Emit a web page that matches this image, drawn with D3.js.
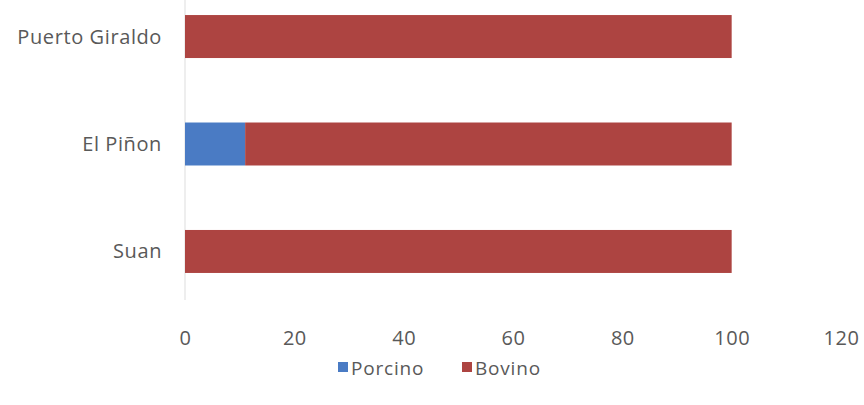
<!DOCTYPE html>
<html><head><meta charset="utf-8">
<script src="https://cdn.jsdelivr.net/npm/d3@7"></script>
<style>body{margin:0;background:#fff;} svg{display:block;font-family:"Open Sans",sans-serif;}</style>
</head><body>
<svg id="c" width="864" height="405"></svg>
<script>
const categories = ["Puerto Giraldo", "El Piñon", "Suan"];
const seriesNames = ["Porcino", "Bovino"];
const porcino = [0, 11, 0];
const bovino = [100, 89, 100];
const xTicks = [0, 20, 40, 60, 80, 100, 120];
const colors = ["#4a7bc4", "#ad4441"];

const svg = d3.select("#c");
const x = d3.scaleLinear().domain([0, 120]).range([185, 841]);
const y = d3.scaleBand().domain(categories).range([0, 288]).paddingInner(0.6).paddingOuter(0.14);

const rows = categories.map((c, i) => ({cat: c, Porcino: porcino[i], Bovino: bovino[i]}));
const stacked = d3.stack().keys(seriesNames)(rows);

// axis line
svg.append("line").attr("x1", x(0)).attr("x2", x(0)).attr("y1", 0).attr("y2", 300)
  .attr("stroke", "#e8e8e8").attr("stroke-width", 1.5);

svg.append("g").selectAll("g").data(stacked).join("g")
  .attr("fill", (d, i) => colors[i])
  .selectAll("rect").data(d => d).join("rect")
  .attr("x", d => x(d[0]))
  .attr("width", d => x(d[1]) - x(d[0]))
  .attr("y", d => y(d.data.cat))
  .attr("height", y.bandwidth());

// category labels
svg.append("g").selectAll("text").data(categories).join("text")
  .attr("x", 162).attr("y", d => y(d) + y.bandwidth() / 2)
  .attr("dy", "0.35em").attr("text-anchor", "end")
  .attr("font-size", 20).attr("letter-spacing", 0.6).attr("fill", "#595959").text(d => d);

// x tick labels
const xAxis = d3.axisBottom(x).tickValues(xTicks).tickSize(0).tickPadding(0);
const gx = svg.append("g").attr("transform", "translate(0,331)").call(xAxis);
gx.select(".domain").remove();
gx.selectAll("text").attr("font-size", 20).attr("letter-spacing", 0.5).attr("fill", "#595959").attr("font-family", "Open Sans, sans-serif");

// legend
const leg = svg.append("g");
const legX = [338, 462];
seriesNames.forEach((n, i) => {
  leg.append("rect").attr("x", legX[i]).attr("y", 362).attr("width", 10).attr("height", 10).attr("fill", colors[i]);
  leg.append("text").attr("x", legX[i] + 13).attr("y", 368).attr("dy", "0.35em")
    .attr("font-size", 19).attr("letter-spacing", 0.8).attr("fill", "#595959").text(n);
});
</script>
</body></html>
